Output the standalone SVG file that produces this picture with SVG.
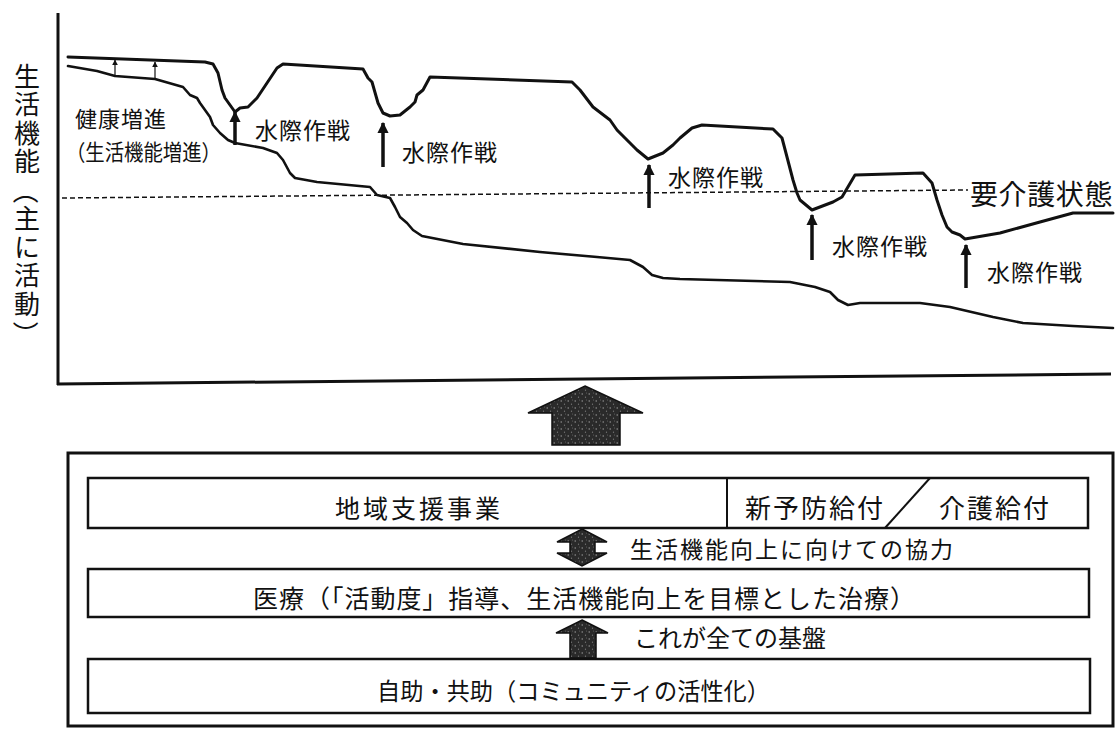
<svg xmlns="http://www.w3.org/2000/svg" width="1117" height="737" viewBox="0 0 1117 737">
<defs>
<style>
text{font-family:"Noto Sans CJK JP","Noto Sans CJK SC",sans-serif;fill:#111}
.curve{fill:none;stroke:#111;stroke-width:3;stroke-linejoin:round;stroke-linecap:round}
.axis{fill:none;stroke:#111;stroke-width:3}
.box{fill:#fff;stroke:#111;stroke-width:2.5}
.thin{fill:none;stroke:#111;stroke-width:2}
.bold{stroke:#111;stroke-width:3.5;fill:none}
.small{stroke:#111;stroke-width:1.2;fill:none}
.big{fill:url(#tex);stroke:#111;stroke-width:1.5;stroke-linejoin:miter}
.lbl{font-size:23px;letter-spacing:1px}
.vert{writing-mode:vertical-rl;font-size:26px;letter-spacing:2.5px}
.par{font-size:26px;text-anchor:middle;dominant-baseline:central}
</style>
<pattern id="tex" width="7" height="7" patternUnits="userSpaceOnUse">
<rect width="7" height="7" fill="#2a2a2a"/>
<circle cx="1.2" cy="2" r="0.7" fill="#a0a0a0"/>
<circle cx="4.5" cy="5.2" r="0.6" fill="#808080"/>
<circle cx="5.5" cy="1" r="0.5" fill="#6a6a6a"/>
</pattern>
<marker id="hb" viewBox="0 0 10 10" refX="9" refY="5" markerWidth="3.2" markerHeight="3.2" orient="auto">
<path d="M0,0 L10,5 L0,10 z" fill="#111"/>
</marker>
<marker id="hs" viewBox="0 0 10 10" refX="9" refY="5" markerWidth="5" markerHeight="5" orient="auto">
<path d="M0,0 L10,5 L0,10 z" fill="#111"/>
</marker>
</defs>
<rect width="1117" height="737" fill="#fff"/>

<g id="chart">
<line class="axis" x1="58" y1="13" x2="58" y2="385"/>
<line class="axis" x1="57" y1="384" x2="1111" y2="374"/>
<line x1="62" y1="198" x2="968" y2="190" stroke="#111" stroke-width="1.5" stroke-dasharray="5,3"/>
<path id="upper-curve" class="curve" d="M68,57 L205,62 L213,64 L218,73 L222,90 L225,98 L230,105 L235,112 L240,108 L248,107 L257,98 L267,83 L277,68 L283,64 L363,69 L368,78 L372,82 L378,103 L383,113 L390,116 L400,115 L410,107 L415,102 L417,95 L423,90 L430,77 L572,82 L580,90 L593,107 L610,120 L617,130 L627,140 L637,150 L648,159 L663,153 L673,145 L680,138 L692,128 L702,125 L773,129 L782,138 L787,157 L793,180 L797,193 L800,200 L812,210 L833,202 L842,197 L855,175 L923,173 L932,183 L937,200 L942,215 L947,227 L952,232 L960,235 L965,239 L1000,233 L1040,222 L1073,213 L1113,213"/>
<path id="lower-curve" class="curve" style="stroke-width:2.6" d="M68,66 L97,71 L115,76 L155,79 L183,87 L190,95 L197,98 L200,103 L205,110 L210,117 L213,125 L220,133 L228,140 L235,143 L263,148 L277,153 L283,160 L290,173 L295,178 L317,182 L370,187 L377,195 L390,198 L395,207 L400,217 L407,223 L413,230 L422,236 L463,244 L540,252 L597,257 L630,260 L643,267 L652,275 L663,278 L680,279 L790,282 L815,287 L830,292 L838,300 L848,305 L860,303 L920,303 L950,307 L993,317 L1023,323 L1073,326 L1113,328"/>
</g>

<g id="y-label">
<text class="vert" x="27" y="63">生活機能</text>
<text class="par" transform="translate(27,191) rotate(90)">（</text>
<text class="vert" x="27" y="205.5">主に活動</text>
<text class="par" transform="translate(27,334) rotate(90)">）</text>
</g>

<g id="label-kenko">
<text x="75" y="127" style="font-size:22px;letter-spacing:1px">健康増進</text>
<text x="66" y="160" style="font-size:22px" textLength="155" lengthAdjust="spacingAndGlyphs">（生活機能増進）</text>
</g>
<g id="label-mizugiwa-1"><text class="lbl" x="255" y="139">水際作戦</text></g>
<g id="label-mizugiwa-2"><text class="lbl" x="402" y="161">水際作戦</text></g>
<g id="label-mizugiwa-3"><text class="lbl" x="668" y="186">水際作戦</text></g>
<g id="label-mizugiwa-4"><text class="lbl" x="832" y="255">水際作戦</text></g>
<g id="label-mizugiwa-5"><text class="lbl" x="987" y="281">水際作戦</text></g>
<g id="label-yokaigo"><text x="970" y="205" style="font-size:28px;letter-spacing:0.6px">要介護状態</text></g>

<g id="outer-box">
<rect x="68" y="453" width="1045" height="273" fill="none" stroke="#111" stroke-width="3"/>
</g>
<g id="box-chiiki">
<rect class="box" x="88" y="478" width="1000" height="50"/>
<line class="thin" x1="727" y1="478" x2="727" y2="528"/>
<line class="thin" x1="885" y1="528" x2="930" y2="478"/>
<text x="335" y="518" style="font-size:25px;letter-spacing:3px">地域支援事業</text>
<text x="745" y="518" style="font-size:26px;letter-spacing:2px">新予防給付</text>
<text x="939" y="518" style="font-size:26px;letter-spacing:2px">介護給付</text>
</g>
<g id="box-iryo">
<rect class="box" x="88" y="569" width="1001" height="48"/>
<text x="253" y="608" style="font-size:25px" textLength="662">医療（「活動度」指導、生活機能向上を目標とした治療）</text>
</g>
<g id="box-jijo">
<rect class="box" x="88" y="659" width="1002" height="54"/>
<text x="377" y="700" style="font-size:24px" textLength="393" lengthAdjust="spacingAndGlyphs">自助・共助（コミュニティの活性化）</text>
</g>
<g id="label-kyoryoku"><text x="630" y="558" style="font-size:23px;letter-spacing:2px">生活機能向上に向けての協力</text></g>
<g id="label-kiban"><text x="634" y="647" style="font-size:24px">これが全ての基盤</text></g>

<g id="connectors">
<line class="small" x1="115" y1="76" x2="115" y2="60" marker-end="url(#hs)"/>
<line class="small" x1="155" y1="79" x2="155" y2="62" marker-end="url(#hs)"/>
<line class="bold" x1="235" y1="145" x2="235" y2="112" marker-end="url(#hb)"/>
<line class="bold" x1="383" y1="167" x2="383" y2="123" marker-end="url(#hb)"/>
<line class="bold" x1="649" y1="208" x2="649" y2="165" marker-end="url(#hb)"/>
<line class="bold" x1="812" y1="260" x2="812" y2="215" marker-end="url(#hb)"/>
<line class="bold" x1="966" y1="288" x2="966" y2="245" marker-end="url(#hb)"/>
<polygon class="big" points="585,386 643,413 620,413 620,445 552,445 552,413 528,413"/>
<polygon class="big" points="582,529 607,542 595,542 595,553 607,553 582,566 557,553 570,553 570,542 557,542"/>
<polygon class="big" points="582,620 608,633 596,633 596,658 570,658 570,633 556,633"/>
</g>
</svg>
